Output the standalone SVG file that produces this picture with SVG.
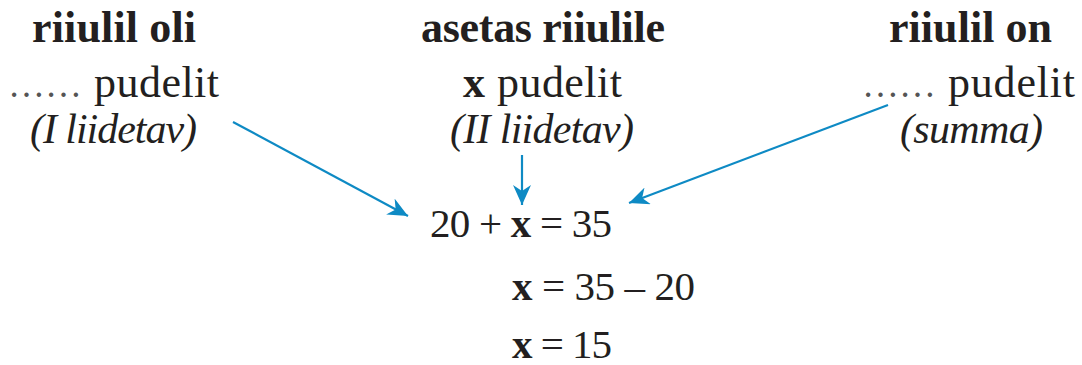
<svg xmlns="http://www.w3.org/2000/svg" width="1082" height="365" viewBox="0 0 1082 365">
<style>
text{font-family:"Liberation Serif","Times New Roman",serif;fill:#231f20;font-size:44px}
.b{font-weight:bold}
.i{font-style:italic;font-size:42px}
.d{font-size:37px;fill:#555}
.e{font-size:41px}
.c{stroke:#0e8ac4;stroke-width:2.2;fill:none}
</style>
<defs>
<marker id="ah" markerUnits="userSpaceOnUse" markerWidth="22" markerHeight="18" viewBox="0 0 22 18" refX="20" refY="9" orient="auto">
<path d="M0,0 L20,9 L0,18 L6,9 z" fill="#0e8ac4"/>
</marker>
</defs>
<rect width="1082" height="365" fill="#fff"/>
<g id="left">
<text class="b" x="32" y="42" textLength="164">riiulil oli</text>
<text class="d" x="8" y="97">……</text>
<text x="94" y="97" textLength="125">pudelit</text>
<text class="i" x="30" y="143" textLength="167">(I liidetav)</text>
</g>
<g id="middle">
<text class="b" x="421" y="42" textLength="244">asetas riiulile</text>
<text x="463" y="97" textLength="159"><tspan class="b">x</tspan> pudelit</text>
<text class="i" x="450" y="143" textLength="184">(II liidetav)</text>
</g>
<g id="right">
<text class="b" x="889" y="42" textLength="163">riiulil on</text>
<text class="d" x="862" y="97">……</text>
<text x="948" y="97" textLength="127">pudelit</text>
<text class="i" x="900" y="143" textLength="143">(summa)</text>
</g>
<g id="equation">
<text class="e" x="430" y="237" textLength="182">20 + <tspan class="b">x</tspan> = 35</text>
<text class="e" x="512" y="300" textLength="183"><tspan class="b">x</tspan> = 35 – 20</text>
<text class="e" x="512" y="358" textLength="100"><tspan class="b">x</tspan> = 15</text>
</g>
<g id="connectors">
<line class="c" x1="233" y1="122" x2="408" y2="216" marker-end="url(#ah)"/>
<line class="c" x1="522" y1="155" x2="522" y2="205" marker-end="url(#ah)"/>
<line class="c" x1="888" y1="105" x2="629" y2="203" marker-end="url(#ah)"/>
</g>
</svg>
